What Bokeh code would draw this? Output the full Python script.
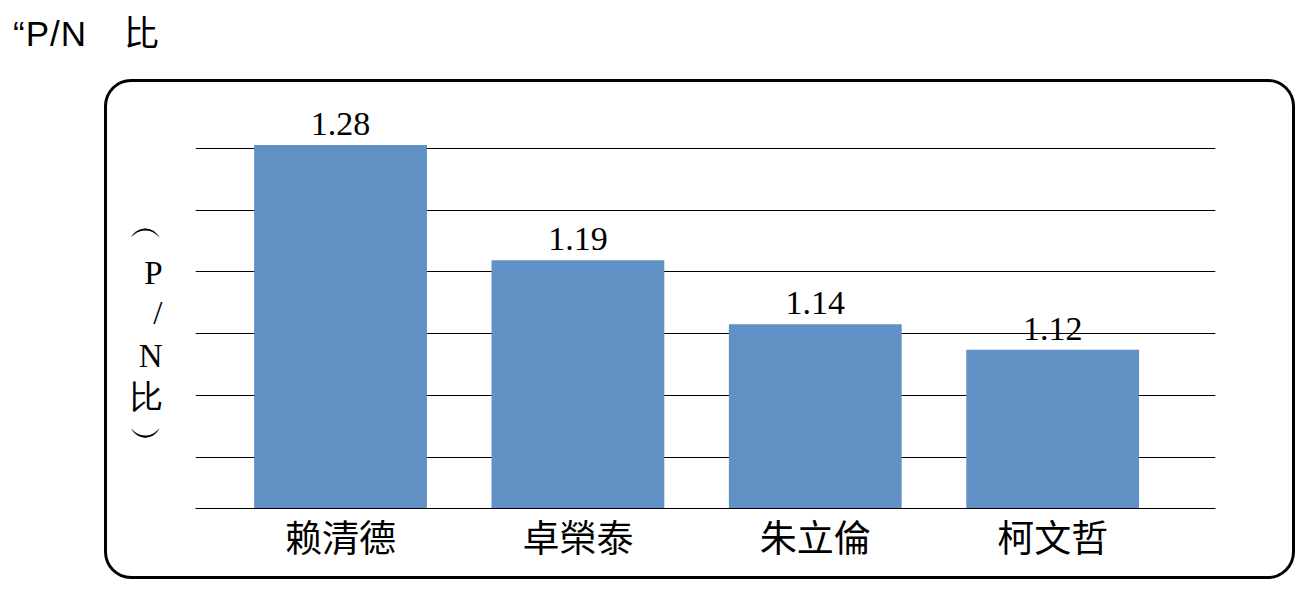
from bokeh.plotting import figure
from bokeh.models import ColumnDataSource, Range1d, FixedTicker, Div, Spacer
from bokeh.layouts import column, row
from bokeh.core.properties import value
from bokeh.embed import file_html
from bokeh.resources import INLINE

# ---- data ----
names = ["赖清德", "卓榮泰", "朱立倫", "柯文哲"]
ratios = [1.28, 1.19, 1.14, 1.12]
title_text = "“P/N 比"
ylabel_chars = ["︵", "P", "/", "N", "比", "︶"]
grid_values = [1.036, 1.084, 1.133, 1.181, 1.229, 1.277]

# ---- geometry ----
FIG_W, FIG_H = 1185, 494
MB_L, MB_R, MB_T, MB_B = 88, 77, 10, 68
Y0, Y1 = 0.996, 1.321
X0, X1 = -0.611, 3.686
frame_h = FIG_H - MB_T - MB_B


def fy(py):  # figure-relative pixel -> data y
    return round(Y0 + (MB_T + frame_h - py) * (Y1 - Y0) / frame_h, 5)


xs = list(range(len(names)))
src = ColumnDataSource(dict(x=xs, y=ratios, lab=[f"{v:.2f}" for v in ratios]))

p = figure(width=FIG_W, height=FIG_H, output_backend="svg", toolbar_location=None,
           x_range=Range1d(X0, X1), y_range=Range1d(Y0, Y1),
           min_border_left=MB_L, min_border_right=MB_R,
           min_border_top=MB_T, min_border_bottom=MB_B)
p.background_fill_color = None
p.border_fill_color = None
p.outline_line_color = None
p.styles = {"border-radius": "24px", "box-shadow": "0 0 0 3px #000"}

p.vbar(x="x", top="y", bottom=0, width=0.728, source=src,
       fill_color="#6191C4", line_color=None)
p.text(x="x", y="y", text="lab", source=src, text_align="center",
       text_baseline="alphabetic", y_offset=-21, text_color="#000000",
       text_font=value("Liberation Serif"), text_font_size="34px")

# grid
p.ygrid.ticker = FixedTicker(ticks=grid_values)
p.ygrid.grid_line_color = "#000000"
p.ygrid.grid_line_width = 1
p.xgrid.visible = False

# x axis with category names
ax = p.xaxis[0]
ax.ticker = FixedTicker(ticks=xs)
ax.major_label_overrides = {i: n for i, n in zip(xs, names)}
ax.major_tick_line_color = None
ax.minor_tick_line_color = None
ax.axis_line_color = "#000000"
ax.axis_line_width = 1
ax.major_label_standoff = -6
ax.major_label_text_font = "Noto Sans CJK TC"
ax.major_label_text_font_size = "37px"
ax.major_label_text_color = "#000000"

# y axis: vertical stacked label "(P/N比)" drawn through tick labels
char_py = [144, 190, 230, 273, 315, 355]
yticks = [fy(py) for py in char_py]
ay = p.yaxis[0]
ay.ticker = FixedTicker(ticks=yticks)
ay.major_label_overrides = {t: c for t, c in zip(yticks, ylabel_chars)}
ay.axis_line_color = None
ay.major_tick_line_color = None
ay.minor_tick_line_color = None
ay.major_tick_out = 0
ay.major_tick_in = 0
ay.major_label_standoff = 33
ay.major_label_text_font = "Liberation Serif"
ay.major_label_text_font_size = "33px"
ay.major_label_text_color = "#000000"

title = Div(text=title_text, width=400, height=82, margin=(0, 0, 0, 0),
            styles={"font-family": "'Liberation Sans','Noto Sans CJK TC',sans-serif",
                    "font-size": "35px", "line-height": "40px", "padding-top": "14px",
                    "padding-left": "13px", "word-spacing": "26px", "letter-spacing": "1px",
                    "color": "#000"})

layout = column(title, row(Spacer(width=107, height=FIG_H, margin=(0, 0, 0, 0)), p,
                           margin=(0, 0, 0, 0)), margin=(0, 0, 0, 0))

open("out.html", "w").write(file_html(layout, INLINE))
